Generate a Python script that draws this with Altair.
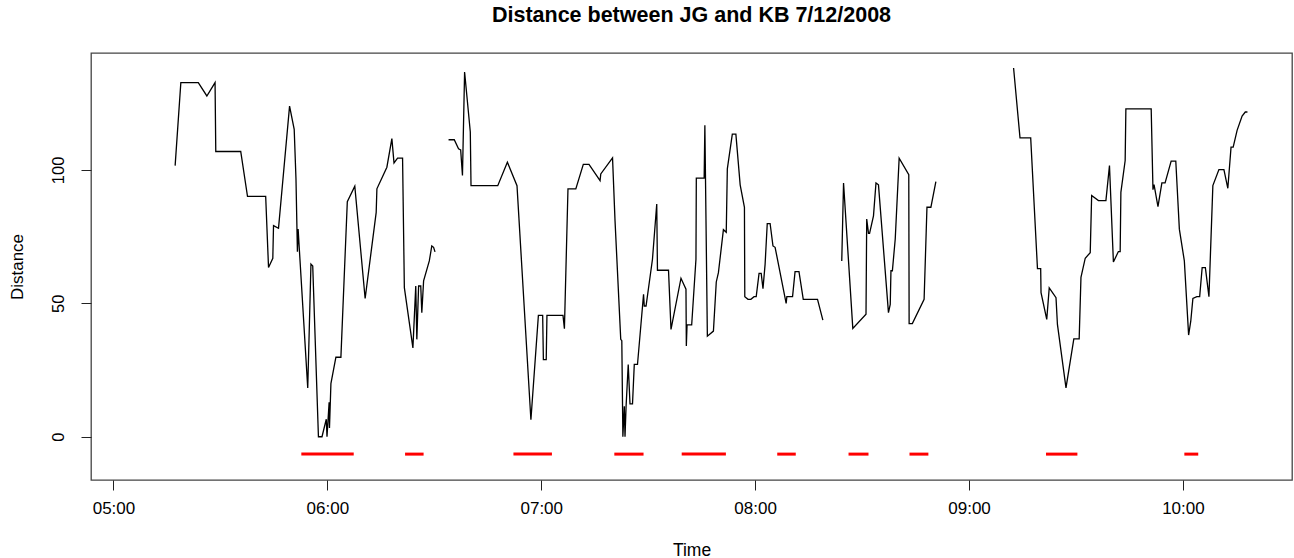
import altair as alt
import pandas as pd

chart_title = "Distance between JG and KB 7/12/2008"
x_title = "Time"
y_title = "Distance"
tick_minutes = [0, 60, 120, 180, 240, 300]
tick_labels = ["05:00", "06:00", "07:00", "08:00", "09:00", "10:00"]
y_ticks = [0, 50, 100]

# minutes after 05:00 and distance, per continuous stretch of track
seg1_t = [17.3, 18.9, 23.8, 26.2, 28.5, 28.7, 35.7, 37.6, 42.7, 43.5, 44.7, 44.9, 46.3, 49.4, 50.7,
          51.2, 51.6, 51.8, 54.5, 55.4, 55.9, 57.5, 58.5, 59.7, 59.9, 60.5, 60.6, 61.0, 62.4, 63.8,
          65.6, 67.7, 70.6, 73.7, 73.9, 76.7, 78.1, 78.7, 79.7, 81.1, 81.6, 84.0, 84.8, 85.1, 85.6,
          86.2, 86.5, 87.0, 88.6, 89.3, 89.8, 90.2]
seg1_d = [101.6, 132.7, 132.7, 127.7, 132.7, 106.9, 106.9, 90.1, 90.1, 63.4, 66.9, 79.1, 78.1, 123.9, 115.2,
          96.6, 69.3, 77.8, 18.3, 64.7, 64.0, 0, 0, 6.6, 0, 12.9, 3.3, 19.9, 29.8, 29.8,
          88.1, 93.9, 51.8, 84.1, 92.9, 101.0, 111.7, 102.6, 104.4, 104.4, 55.9, 33.3, 56.5, 36.5, 56.5,
          56.5, 46.5, 58.4, 65.9, 71.5, 71.0, 69.3]

seg2_t = [94.0, 95.6, 96.8, 97.4, 97.9, 98.5, 100.1, 100.3, 107.8, 110.5, 113.2, 117.1, 119.2, 120.4, 120.6,
          121.4, 121.6, 126.1, 126.5, 127.5, 129.7, 131.8, 133.4, 136.5, 136.7, 140.0, 140.7, 142.3, 142.6, 142.9,
          143.3, 143.5, 143.8, 144.4, 144.9, 145.6, 146.1, 147.0, 148.7, 148.9, 149.4, 151.2, 152.4, 152.6, 155.7,
          156.4, 159.2, 160.6, 160.7, 160.9, 162.2, 163.4, 163.5, 165.7, 165.9, 166.6, 168.3, 169.1, 169.7, 171.1,
          171.9, 172.2, 173.6, 174.6, 175.8, 177.0, 177.1, 178.0, 178.8, 179.7, 180.3, 181.1, 181.7, 182.2, 182.8,
          183.4, 184.2, 185.0, 185.6, 188.7, 188.9, 190.5, 191.2, 192.3, 193.5, 197.5, 199.0]
seg2_d = [111.3, 111.3, 107.9, 107.5, 97.9, 136.7, 114.2, 94.1, 94.1, 102.9, 94.1, 6.4, 45.5, 45.5, 28.9,
          28.9, 45.5, 45.5, 40.5, 92.9, 92.9, 102.1, 102.1, 96.0, 98.5, 104.5, 80.9, 36.5, 36.0, 0,
          11.4, 0, 11.4, 27.1, 12.3, 12.3, 27.1, 27.1, 53.4, 49.0, 49.0, 66.5, 87.2, 62.4, 62.4,
          40.2, 59.4, 55.3, 34.0, 41.9, 41.9, 66.5, 96.9, 96.9, 116.7, 37.7, 39.6, 58.0, 61.5, 77.6,
          76.6, 100.4, 113.4, 113.4, 94.4, 86.0, 52.5, 51.5, 51.5, 52.5, 52.5, 61.2, 61.2, 55.5, 64.7,
          79.9, 79.9, 71.5, 71.0, 50.0, 52.5, 52.5, 61.9, 61.9, 51.5, 51.5, 43.7]

seg3_t = [204.3, 204.8, 207.4, 211.1, 211.3, 211.8, 212.1, 213.2, 213.9, 214.6, 217.4, 217.9, 218.1, 218.5,
          219.3, 220.4, 223.1, 223.2, 224.1, 227.4, 228.2, 229.3, 230.7]
seg3_d = [65.9, 95.1, 40.6, 45.9, 81.6, 76.2, 76.2, 82.8, 95.1, 94.4, 46.5, 49.6, 62.2, 62.2,
          74.1, 104.4, 98.2, 42.4, 42.4, 51.5, 86.0, 86.0, 95.6]

seg4_t = [252.5, 254.3, 257.3, 259.2, 260.1, 260.2, 261.8, 262.5, 264.4, 264.8, 267.2, 269.4, 270.9, 271.4,
          272.6, 274.0, 274.4, 276.3, 278.4, 279.4, 280.5, 281.9, 282.4, 282.6, 283.8, 284.0, 291.1, 291.6,
          291.9, 293.0, 294.1, 295.0, 296.7, 298.0, 299.0, 300.4, 301.6, 302.2, 302.8, 303.9, 304.7, 305.4,
          306.3, 307.3, 308.4, 310.1, 311.5, 312.6, 313.5, 314.1, 315.2, 316.6, 317.5, 318.1]
seg4_d = [138.2, 112.0, 112.0, 63.0, 63.0, 54.0, 44.0, 55.8, 52.1, 42.1, 18.3, 36.7, 36.7, 59.7,
          66.9, 69.0, 90.4, 88.5, 88.5, 101.6, 65.5, 69.4, 69.4, 91.6, 103.5, 122.9, 122.9, 92.6,
          94.5, 86.2, 95.1, 95.1, 103.3, 103.3, 77.8, 65.9, 38.1, 43.3, 51.8, 52.5, 52.5, 63.4,
          63.4, 52.5, 94.1, 100.1, 100.1, 93.1, 108.5, 108.5, 114.8, 120.2, 121.7, 121.7]

# red interval markers (minutes after 05:00)
red_start = [52.7, 81.8, 112.2, 140.5, 159.4, 186.2, 206.2, 223.3, 261.6, 300.4]
red_end = [67.4, 87.0, 123.0, 148.7, 171.8, 191.4, 211.8, 228.6, 270.4, 304.3]
red_level = -6.5

rows = []
for sid, (ts, ds) in enumerate([(seg1_t, seg1_d), (seg2_t, seg2_d), (seg3_t, seg3_d), (seg4_t, seg4_d)]):
    for i, (t, d) in enumerate(zip(ts, ds)):
        rows.append({"seg": sid, "i": i, "t": t, "d": d})
line_df = pd.DataFrame(rows)
red_df = pd.DataFrame({"s": red_start, "e": red_end, "y": [red_level] * len(red_start)})

FONT = "Liberation Sans"
label_expr = "[" + ",".join("'%s'" % l for l in tick_labels) + "][round(datum.value/60)]"

x_scale = alt.Scale(domain=[-6.3, 330.6], nice=False, zero=False)
y_scale = alt.Scale(domain=[-16.2, 143.8], nice=False, zero=False)

x_axis = alt.Axis(values=tick_minutes, labelExpr=label_expr, title=x_title, grid=False, domain=False,
                  tickSize=10, tickColor="#222", labelFont=FONT, labelFontSize=17, labelColor="black",
                  labelPadding=10, titleFont=FONT, titleFontSize=17.5, titleFontWeight="normal",
                  titleColor="black", titlePadding=25)
y_axis = alt.Axis(values=y_ticks, title=y_title, grid=False, domain=False, tickSize=10, tickColor="#222",
                  labelFont=FONT, labelFontSize=16.5, labelColor="black", labelAngle=-90,
                  labelAlign="center", labelBaseline="bottom", labelPadding=14.5,
                  titleFont=FONT, titleFontSize=17, titleFontWeight="normal", titleColor="black",
                  titlePadding=24)

lines = alt.Chart(line_df).mark_line(color="black", strokeWidth=1.3).encode(
    x=alt.X("t:Q", scale=x_scale, axis=x_axis),
    y=alt.Y("d:Q", scale=y_scale, axis=y_axis),
    detail="seg:N",
    order="i:Q",
)

reds = alt.Chart(red_df).mark_rule(color="#ff0000", strokeWidth=3).encode(
    x=alt.X("s:Q", scale=x_scale),
    x2="e:Q",
    y=alt.Y("y:Q", scale=y_scale),
)

chart = alt.layer(lines, reds).properties(
    width=1201, height=427,
    title=alt.TitleParams(chart_title, anchor="middle", font=FONT, fontSize=21.5, fontWeight="bold",
                          color="black", offset=27),
    autosize=alt.AutoSizeParams(type="none"),
    padding={"left": 91, "top": 53, "right": 2, "bottom": 78},
    background="white",
).configure_view(stroke="#444", strokeWidth=1.3)

chart.save("out.html", embed_options={"renderer": "svg", "actions": False})
